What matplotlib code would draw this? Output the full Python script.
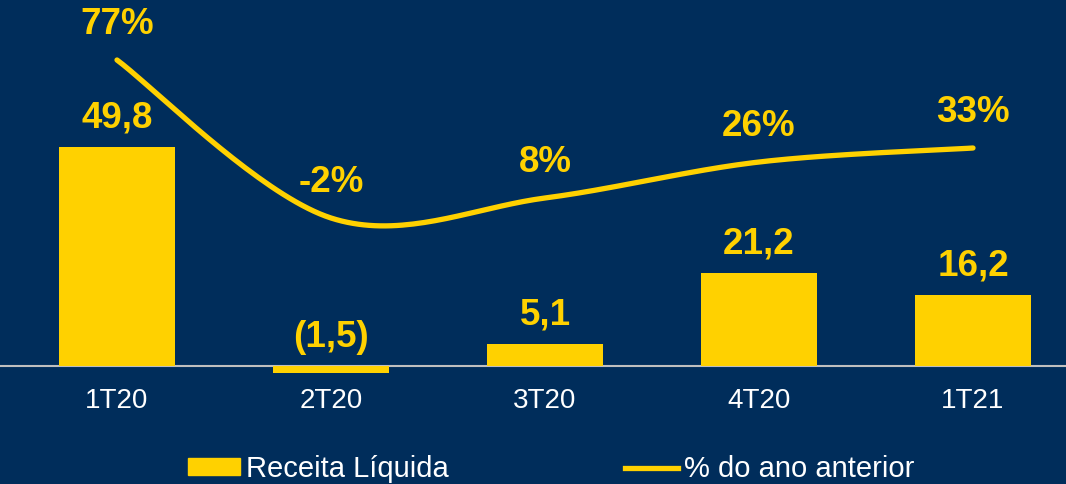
import numpy as np
import matplotlib.pyplot as plt
from matplotlib.patches import Patch
from matplotlib.lines import Line2D

plt.rcParams['font.family'] = ['Liberation Sans', 'DejaVu Sans']

quarters = ['1T20', '2T20', '3T20', '4T20', '1T21']
receita = [49.8, -1.5, 5.1, 21.2, 16.2]
receita_labels = ['49,8', '(1,5)', '5,1', '21,2', '16,2']
var_ano = [77, -2, 8, 26, 33]
var_labels = ['77%', '-2%', '8%', '26%', '33%']

bg = '#002D5B'
yellow = '#FFD100'


def smooth(xs, ys, n=40):
    # catmull-rom, like the smoothed line in the original deck
    px = np.r_[xs[0], xs, xs[-1]]
    py = np.r_[ys[0], ys, ys[-1]]
    outx, outy = [], []
    t = np.linspace(0, 1, n)
    for i in range(1, len(px) - 2):
        for p, out in ((px, outx), (py, outy)):
            p0, p1, p2, p3 = p[i - 1], p[i], p[i + 1], p[i + 2]
            out.extend(0.5 * (2 * p1 + (-p0 + p2) * t
                              + (2 * p0 - 5 * p1 + 4 * p2 - p3) * t ** 2
                              + (-p0 + 3 * p1 - 3 * p2 + p3) * t ** 3))
    return outx, outy


fig = plt.figure(figsize=(10.66, 4.84), dpi=100, facecolor=bg)
ax = fig.add_axes([0, 94 / 484, 1, 390 / 484])
ax.set_facecolor(bg)
x = np.arange(len(quarters))

ax.bar(x, receita, width=116 / 214, color=yellow, zorder=2)
ax.axhline(0, color='#BFBFBF', lw=1.5, zorder=1)
ax.set_xlim(-117 / 214, (1066 - 117) / 214)
ax.set_ylim(-24 / 4.4, 366 / 4.4)

for xi, v, lab in zip(x, receita, receita_labels):
    ax.annotate(lab, (xi, max(v, 0)), xytext=(0, 8), textcoords='offset points',
                ha='center', va='bottom', color=yellow, fontsize=26.5,
                fontweight='bold')

ax.set_xticks(x)
ax.set_xticklabels(quarters)
ax.tick_params(axis='x', length=0, pad=-1.5, labelsize=20, labelcolor='white')
ax.set_yticks([])
for s in ax.spines.values():
    s.set_visible(False)

ax2 = ax.twinx()
ax2.set_ylim(-(390 - 214) / 2, 214 / 2)
sx, sy = smooth(x, var_ano)
ax2.plot(sx, sy, color=yellow, lw=3.8, solid_capstyle='round', zorder=3)
for xi, v, lab in zip(x, var_ano, var_labels):
    ax2.annotate(lab, (xi, v), xytext=(0, 13), textcoords='offset points',
                 ha='center', va='bottom', color=yellow, fontsize=26.5,
                 fontweight='bold')
ax2.set_yticks([])
for s in ax2.spines.values():
    s.set_visible(False)

handles = [Patch(color=yellow, label='Receita Líquida'),
           Line2D([], [], color=yellow, lw=3.8, label='% do ano anterior')]
fig.legend(handles=handles, loc='center', bbox_to_anchor=(551 / 1066, 15 / 484),
           ncol=2, frameon=False, fontsize=21, labelcolor='white',
           handlelength=1.8, handleheight=0.52, handletextpad=0.2,
           columnspacing=6.05, borderpad=0)

fig.savefig('out.png', dpi=100, facecolor=bg)
